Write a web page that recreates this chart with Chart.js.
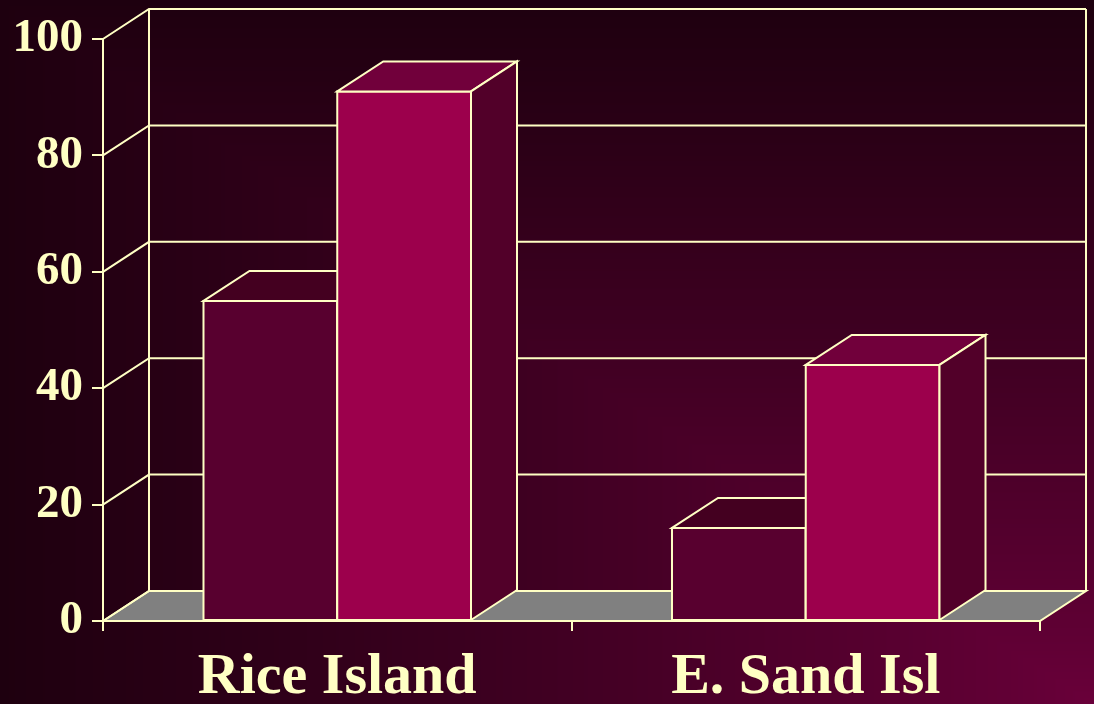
<!DOCTYPE html>
<html>
<head>
<meta charset="utf-8">
<script src="https://cdn.jsdelivr.net/npm/chart.js@4/dist/chart.umd.min.js"></script>
<style>
  html, body { margin: 0; padding: 0; background: #200010; }
  canvas { display: block; }
</style>
</head>
<body>
<canvas id="chart" width="1094" height="704"></canvas>
<script>
// chart data
const categories = ['Rice Island', 'E. Sand Isl'];
const seriesDark = [55, 16];
const seriesBright = [91, 44];
const yTicks = [0, 20, 40, 60, 80, 100];

const CREAM = '#ffffc4';
const DEPTH_X = 46;   // 3d offset of the back wall
const DEPTH_Y = -30;

// face colours per dataset: front, top, side
const faceColors = [
  { front: '#58002f', top: '#440020', side: '#3c001c' },
  { front: '#9c004c', top: '#71003b', side: '#520029' }
];

// rectangular "from corner" gradient, lighter at bottom right
const backgroundPlugin = {
  id: 'cornerGradient',
  beforeDraw(chart) {
    const ctx = chart.ctx;
    const w = chart.width, h = chart.height;
    const img = ctx.createImageData(w, h);
    const c0 = [0x6a, 0x00, 0x3a], c1 = [0x1e, 0x00, 0x0f];
    for (let y = 0; y < h; y++) {
      for (let x = 0; x < w; x++) {
        let t = Math.max((w - x) / w, (h - y) / h);
        t = Math.pow(t, 0.85);
        const i = (y * w + x) * 4;
        img.data[i] = c0[0] + (c1[0] - c0[0]) * t;
        img.data[i + 1] = 0;
        img.data[i + 2] = c0[2] + (c1[2] - c0[2]) * t;
        img.data[i + 3] = 255;
      }
    }
    ctx.putImageData(img, 0, 0);
  }
};

function drawQuad(ctx, pts, fill) {
  ctx.beginPath();
  ctx.moveTo(pts[0][0], pts[0][1]);
  for (let i = 1; i < pts.length; i++) ctx.lineTo(pts[i][0], pts[i][1]);
  ctx.closePath();
  ctx.fillStyle = fill;
  ctx.fill();
  ctx.stroke();
}

// floor, back wall and side wall lines, then the 3d bars
const wallsPlugin = {
  id: 'walls',
  beforeDatasetsDraw(chart) {
    const ctx = chart.ctx;
    const { left, right } = chart.chartArea;
    const yScale = chart.scales.y;
    const y0 = yScale.getPixelForValue(0);
    ctx.save();
    ctx.lineWidth = 2;
    ctx.strokeStyle = CREAM;

    // floor
    drawQuad(ctx, [[left, y0], [left + DEPTH_X, y0 + DEPTH_Y], [right + DEPTH_X, y0 + DEPTH_Y], [right, y0]], '#808080');

    // grid lines on the back wall + diagonals on the left wall
    yTicks.forEach(v => {
      const y = yScale.getPixelForValue(v);
      ctx.beginPath();
      ctx.moveTo(left, y);
      ctx.lineTo(left + DEPTH_X, y + DEPTH_Y);
      ctx.lineTo(right + DEPTH_X, y + DEPTH_Y);
      ctx.stroke();
    });

    // back wall verticals
    const yTop = yScale.getPixelForValue(100) + DEPTH_Y;
    ctx.beginPath();
    ctx.moveTo(left + DEPTH_X, yTop);
    ctx.lineTo(left + DEPTH_X, y0 + DEPTH_Y);
    ctx.moveTo(right + DEPTH_X, yTop);
    ctx.lineTo(right + DEPTH_X, y0 + DEPTH_Y);
    ctx.stroke();
    ctx.restore();
  },

  // Chart.js paints the last dataset first, so repaint all faces front-to-back here
  afterDatasetsDraw(chart) {
    const ctx = chart.ctx;
    ctx.save();
    ctx.lineWidth = 2;
    ctx.strokeStyle = CREAM;
    ctx.lineJoin = 'miter';
    chart.data.datasets.forEach((ds, di) => {
      const colors = faceColors[di];
      chart.getDatasetMeta(di).data.forEach(bar => {
        const { x, y, base, width } = bar.getProps(['x', 'y', 'base', 'width'], true);
        const x1 = x - width / 2, x2 = x + width / 2;
        drawQuad(ctx, [[x1, y], [x2, y], [x2, base], [x1, base]], colors.front);
        drawQuad(ctx, [[x1, y], [x1 + DEPTH_X, y + DEPTH_Y], [x2 + DEPTH_X, y + DEPTH_Y], [x2, y]], colors.top);
        drawQuad(ctx, [[x2, y], [x2 + DEPTH_X, y + DEPTH_Y], [x2 + DEPTH_X, base + DEPTH_Y], [x2, base]], colors.side);
      });
    });
    ctx.restore();
  }
};

const serif = '"Liberation Serif", "Times New Roman", serif';

new Chart(document.getElementById('chart'), {
  type: 'bar',
  data: {
    labels: categories,
    datasets: [
      {
        data: seriesDark,
        backgroundColor: faceColors[0].front,
        borderColor: CREAM,
        borderWidth: 2,
        borderSkipped: false
      },
      {
        data: seriesBright,
        backgroundColor: faceColors[1].front,
        borderColor: CREAM,
        borderWidth: 2,
        borderSkipped: false
      }
    ]
  },
  options: {
    responsive: false,
    animation: false,
    categoryPercentage: 0.571,
    barPercentage: 1,
    layout: { padding: { top: 39, right: 54, left: 0, bottom: 0 } },
    plugins: {
      legend: { display: false },
      tooltip: { enabled: false }
    },
    scales: {
      x: {
        afterFit: s => { s.height = 83; },
        grid: { offset: true, drawOnChartArea: false, tickLength: 10, color: CREAM, lineWidth: 2 },
        border: { color: CREAM, width: 2 },
        ticks: {
          color: CREAM,
          padding: 12,
          font: { family: serif, weight: 'bold', size: 58 }
        }
      },
      y: {
        min: 0,
        max: 100,
        afterFit: s => { s.width = 103; },
        grid: { drawOnChartArea: false, tickLength: 11, color: CREAM, lineWidth: 2 },
        border: { color: CREAM, width: 2 },
        ticks: {
          stepSize: 20,
          color: CREAM,
          padding: 9,
          font: { family: serif, weight: 'bold', size: 47 }
        }
      }
    }
  },
  plugins: [backgroundPlugin, wallsPlugin]
});
</script>
</body>
</html>
